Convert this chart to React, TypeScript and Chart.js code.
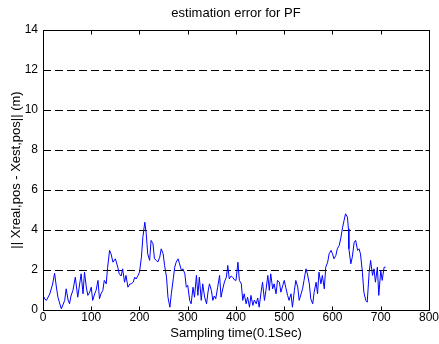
import React, { useEffect, useRef } from "react";
import { Chart, registerables } from "chart.js";

Chart.register(...registerables);

// Sampling time (0.1 s units)
const sampleTimes: number[] = [
  0, 2, 7, 14, 20, 24, 28, 31, 35, 38, 42, 45, 48, 52, 55, 58, 62, 67, 72, 76,
  79, 83, 86, 90, 93, 97, 100, 103, 107, 110, 114, 117, 120, 124, 127, 131, 134, 138, 141, 145,
  150, 155, 158, 162, 165, 169, 172, 176, 180, 183, 187, 190, 193, 197, 200, 204, 207, 211, 214, 217,
  221, 224, 228, 231, 235, 238, 242, 245, 249, 252, 256, 259, 263, 266, 270, 273, 276, 280, 283, 287,
  290, 294, 297, 300, 304, 307, 311, 314, 318, 321, 324, 328, 331, 335, 339, 342, 345, 349, 352, 355,
  358, 362, 366, 369, 372, 376, 380, 383, 386, 390, 393, 397, 400, 404, 407, 411, 414, 417, 421, 424,
  428, 431, 435, 438, 442, 445, 448, 452, 455, 459, 462, 466, 469, 472, 476, 479, 483, 486, 490, 493,
  497, 500, 503, 507, 510, 514, 517, 521, 524, 528, 531, 535, 538, 541, 545, 548, 552, 555, 559, 562,
  566, 569, 572, 576, 579, 583, 586, 590, 593, 597, 600, 603, 607, 610, 614, 617, 621, 624, 627, 631,
  633, 634, 638, 641, 645, 648, 652, 655, 658, 662, 665, 669, 672, 676, 679, 683, 686, 689, 693, 696,
  700, 703, 707, 710,
];

// || Xreal,pos - Xest,pos || (m)
const errorValues: number[] = [
  0.65, 0.59, 0.48, 0.8, 1.3, 1.84, 1.1, 0.64, 0.3, 0.06, 0.3, 0.48, 1.06, 0.5, 0.31, 0.7, 0.98, 1.64, 0.64, 1.3,
  1.81, 0.81, 1.89, 1.1, 0.73, 0.9, 1.14, 0.48, 0.8, 0.98, 1.48, 0.56, 0.8, 0.98, 1.48, 1.31, 2.14, 2.98, 2.81, 2.39,
  2.56, 2.14, 1.81, 1.7, 2.06, 1.39, 1.73, 1.14, 1.3, 1.31, 1.39, 1.64, 1.55, 1.73, 1.89, 2.64, 3.64, 4.39, 3.81, 2.81,
  2.48, 3.48, 3.31, 2.56, 2.48, 2.4, 2.64, 3.06, 2.81, 2.23, 1.64, 0.64, 0.14, 0.81, 1.56, 2.14, 2.39, 2.56, 2.31, 1.98,
  2.06, 1.81, 1.14, 1.23, 0.48, 0.31, 1.14, 0.64, 1.73, 0.73, 1.64, 0.48, 1.31, 0.64, 0.31, 0.9, 1.31, 0.98, 0.48, 0.7,
  0.56, 1.14, 1.73, 0.64, 1.0, 1.4, 1.64, 2.23, 1.56, 1.7, 1.64, 1.5, 1.48, 2.39, 1.48, 1.31, 0.48, 0.81, 0.31, 0.64,
  0.14, 0.73, 0.23, 0.5, 0.31, 0.6, 0.14, 0.89, 1.39, 0.48, 0.98, 1.73, 0.98, 1.81, 1.06, 1.31, 0.81, 1.48, 1.39, 0.89,
  1.23, 1.48, 1.14, 0.73, 0.48, 0.81, 0.14, 0.98, 1.48, 1.14, 0.48, 0.81, 1.06, 1.48, 2.06, 1.81, 1.3, 0.56, 0.31, 0.89,
  1.39, 0.81, 1.89, 1.31, 1.73, 1.06, 2.14, 2.39, 2.81, 2.98, 2.81, 2.56, 2.73, 3.06, 3.23, 3.56, 4.14, 4.48, 4.81, 4.64,
  4.06, 3.06, 2.31, 2.64, 3.39, 3.48, 2.98, 3.06, 2.81, 1.89, 0.89, 0.48, 0.39, 1.89, 2.48, 1.73, 2.06, 1.39, 2.14, 0.73,
  1.98, 1.48, 2.14, 2.14,
];

const xTickValues: number[] = [0, 100, 200, 300, 400, 500, 600, 700, 800];
const yTickValues: number[] = [0, 2, 4, 6, 8, 10, 12, 14];

const chartTitle = "estimation error for PF";
const xTitle = "Sampling time(0.1Sec)";
const yTitle = "|| Xreal,pos - Xest,pos|| (m)";

const FONT = "Arial, 'Liberation Sans', Helvetica, sans-serif";

const framePlugin = {
  id: "matlabFrame",
  afterDraw(chart: any) {
    const { ctx, chartArea: a, scales } = chart;
    const xs = scales.x;
    const ys = scales.y;
    const L = Math.round(a.left) + 0.5;
    const R = Math.round(a.right) + 0.5;
    const T = Math.round(a.top) + 0.5;
    const B = Math.round(a.bottom) + 0.5;
    ctx.save();
    ctx.strokeStyle = "#000";
    ctx.lineWidth = 1;
    ctx.setLineDash([]);
    ctx.strokeRect(L, T, R - L, B - T);
    const tl = 4;
    ctx.beginPath();
    xTickValues.forEach((v) => {
      const px = Math.round(xs.getPixelForValue(v)) + 0.5;
      ctx.moveTo(px, B);
      ctx.lineTo(px, B - tl);
      ctx.moveTo(px, T);
      ctx.lineTo(px, T + tl);
    });
    yTickValues.forEach((v) => {
      const py = Math.round(ys.getPixelForValue(v)) + 0.5;
      ctx.moveTo(L, py);
      ctx.lineTo(L + tl, py);
      ctx.moveTo(R, py);
      ctx.lineTo(R - tl, py);
    });
    ctx.stroke();
    ctx.fillStyle = "#000";
    ctx.font = `13px ${FONT}`;
    ctx.textAlign = "center";
    ctx.textBaseline = "middle";
    ctx.fillText(chartTitle, (a.left + a.right) / 2, 13);
    ctx.restore();
  },
};

export default function App() {
  const canvasRef = useRef<HTMLCanvasElement | null>(null);

  useEffect(() => {
    const canvas = canvasRef.current;
    if (!canvas) return;
    const points = sampleTimes.map((t, i) => ({ x: t, y: errorValues[i] }));
    const chart = new Chart(canvas, {
      type: "line",
      data: {
        datasets: [
          {
            data: points,
            borderColor: "#0000ff",
            borderWidth: 1,
            pointRadius: 0,
            tension: 0,
            fill: false,
          },
        ],
      },
      options: {
        animation: false,
        responsive: false,
        maintainAspectRatio: false,
        events: [],
        layout: { padding: { top: 30, right: 9, left: 0, bottom: 0 } },
        plugins: {
          legend: { display: false },
          tooltip: { enabled: false },
          title: { display: false },
        },
        scales: {
          x: {
            type: "linear",
            min: 0,
            max: 800,
            afterBuildTicks: (s: any) => {
              s.ticks = xTickValues.map((v) => ({ value: v }));
            },
            afterFit: (s: any) => {
              s.height = 34;
            },
            ticks: {
              color: "#000",
              font: { family: FONT, size: 12 },
              padding: 0,
              maxRotation: 0,
              autoSkip: false,
            },
            grid: { display: false, drawTicks: false },
            border: { display: false },
            title: {
              display: true,
              text: xTitle,
              color: "#000",
              font: { family: FONT, size: 13 },
              padding: { top: 0, bottom: 3 },
            },
          },
          y: {
            type: "linear",
            min: 0,
            max: 14,
            afterBuildTicks: (s: any) => {
              s.ticks = yTickValues.map((v) => ({ value: v }));
            },
            afterFit: (s: any) => {
              s.width = 43;
            },
            ticks: {
              color: "#000",
              font: { family: FONT, size: 12 },
              padding: 5,
              autoSkip: false,
            },
            grid: {
              display: true,
              color: "#000",
              lineWidth: 1,
              drawTicks: false,
            },
            border: { display: false, dash: [8, 4] },
            title: {
              display: true,
              text: yTitle,
              color: "#000",
              font: { family: FONT, size: 13 },
              padding: { top: 9, bottom: 0 },
            },
          },
        },
      },
      plugins: [framePlugin],
    });
    return () => chart.destroy();
  }, []);

  return (
    <div style={{ position: "absolute", left: 0, top: 0, width: 439, height: 344, background: "#fff" }}>
      <canvas ref={canvasRef} width={439} height={344} style={{ display: "block", width: 439, height: 344 }} />
    </div>
  );
}
